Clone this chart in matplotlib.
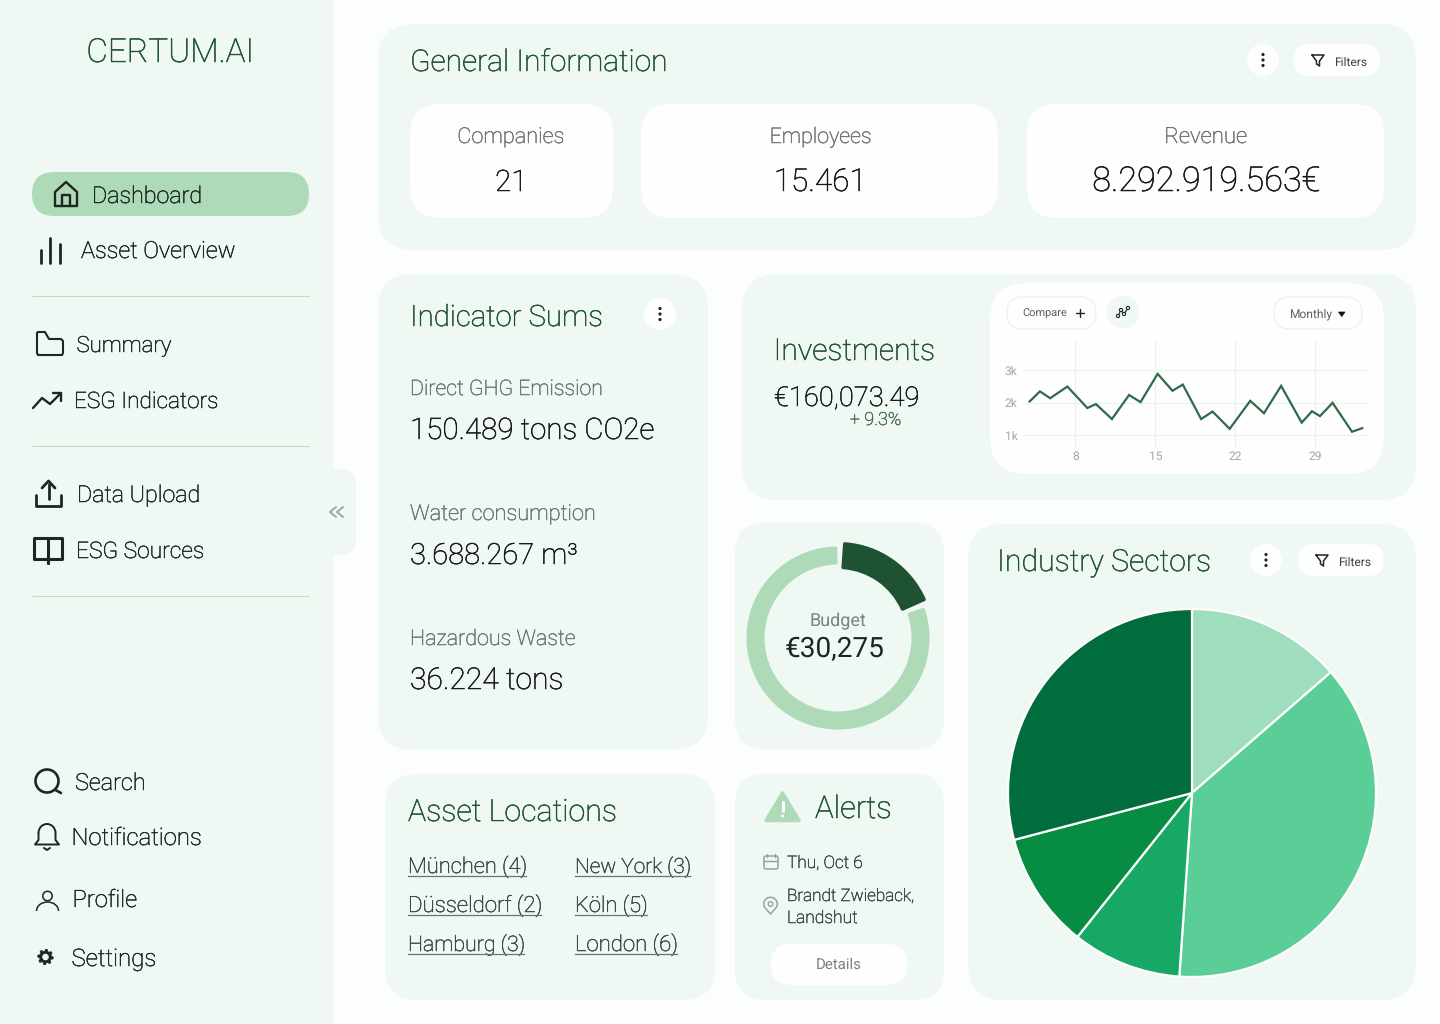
import matplotlib
matplotlib.use('Agg')
import matplotlib.pyplot as plt
import matplotlib.patheffects as pe
from matplotlib.patches import FancyBboxPatch, Circle, Polygon, Rectangle, Arc
import numpy as np

plt.rcParams['font.family'] = ['Roboto', 'DejaVu Sans']
plt.rcParams['text.hinting'] = 'no_hinting'
plt.rcParams['text.hinting_factor'] = 1

W, H = 1440, 1024

# chart data
day_x = [4.0, 4.9, 5.8, 7.3, 9.05, 9.8, 11.2, 12.7, 13.7, 15.2, 16.5, 17.4,
         19.0, 20.0, 21.5, 23.3, 24.5, 26.0, 27.8, 28.7, 29.4, 30.5, 32.2, 33.1]
invest_k = [2.04, 2.35, 2.14, 2.50, 1.84, 1.96, 1.50, 2.24, 2.02, 2.89, 2.37, 2.56,
            1.50, 1.73, 1.20, 2.06, 1.68, 2.52, 1.39, 1.74, 1.59, 2.00, 1.11, 1.22]
day_ticks = [8, 15, 22, 29]
k_ticks = [1, 2, 3]
k_labels = ['1k', '2k', '3k']

sector_values = [13.6, 37.5, 9.6, 10.2, 29.1]
sector_colors = ['#9EDDBE', '#5BCE98', '#18A865', '#078D43', '#016D3E']

budget_used = [62, 298]
budget_rest = [287, 73]

stat_names = ['Companies', 'Employees', 'Revenue']
stat_name_w = [106, 101, 82]
stat_values = ['21', '15.461', '8.292.919.563€']
stat_value_w = [32, 92, 226]

indicator_names = ['Direct GHG Emission', 'Water consumption', 'Hazardous Waste']
indicator_name_w = [191, 184, 164]
indicator_values = ['150.489 tons CO2e', '3.688.267 m³', '36.224 tons']
indicator_value_w = [242, 166, 152]

locations_left = ['München (4)', 'Düsseldorf (2)', 'Hamburg (3)']
locations_left_w = [118, 133, 116]
locations_right = ['New York (3)', 'Köln (5)', 'London (6)']
locations_right_w = [115, 72, 102]

PANEL = '#EFF8F2'
PILL = '#AEDAB8'
TITLE = '#1F5233'
DARK = '#1E2522'
GREY = '#6E7471'
LINE = '#2F6B4B'

fig = plt.figure(figsize=(W / 100, H / 100), dpi=100, facecolor='#FCFEFD')
bg = fig.add_axes([0, 0, 1, 1])
bg.set_xlim(0, W)
bg.set_ylim(H, 0)
bg.axis('off')
fig.canvas.draw()
rend = fig.canvas.get_renderer()


def box(x0, y0, x1, y1, r, color=PANEL, ec='none', lw=0, z=1):
    p = FancyBboxPatch((x0 + r, y0 + r), x1 - x0 - 2 * r, y1 - y0 - 2 * r,
                       boxstyle='round,pad=%d,rounding_size=%d' % (r, r),
                       fc=color, ec=ec, lw=lw, zorder=z)
    bg.add_patch(p)


# width = how wide the text is in the reference, the font size follows from it
def txt(x, y, s, width, color=DARK, ha='left', weight='light', fat=0.35):
    t = bg.text(x, y, s, fontsize=16, color=color, ha=ha, va='baseline',
                weight=weight, zorder=5)
    t.set_fontsize(16 * width / t.get_window_extent(rend).width)
    if weight == 'light':
        t.set_path_effects([pe.withStroke(linewidth=fat, foreground=color)])
    return t


def stroke(xs, ys, color=DARK, lw=2.0):
    bg.plot(xs, ys, color=color, lw=lw, solid_capstyle='round', solid_joinstyle='round', zorder=5)


def kebab(cx, cy):
    bg.add_patch(Circle((cx, cy), 16, fc='#FDFEFD', ec='none', zorder=3))
    for d in [-5.5, 0, 5.5]:
        bg.add_patch(Circle((cx, cy + d), 1.6, fc=DARK, ec='none', zorder=5))


def filters(x0, x1, cy):
    box(x0, cy - 16, x1, cy + 16, 16, '#FDFEFD', z=3)
    fx = x0 + 24
    stroke([fx - 6, fx + 6, fx + 1.5, fx + 1.5, fx - 1.5, fx - 1.5, fx - 6],
           [cy - 5, cy - 5, cy + 1, cy + 6, cy + 4, cy + 1, cy - 5], DARK, 1.1)
    txt(x0 + 40, cy + 6, 'Filters', 34, '#3C4240', weight='normal')


def gear(cx, cy, r):
    ang = np.linspace(0, 2 * np.pi, 48, endpoint=False)
    rad = np.where(np.arange(48) % 6 < 3, r, r * 0.76)
    bg.add_patch(Polygon(np.c_[cx + rad * np.cos(ang), cy + rad * np.sin(ang)], fc=DARK, ec=DARK, lw=0.4, zorder=5))
    bg.add_patch(Circle((cx, cy), r * 0.42, fc=PANEL, ec='none', zorder=6))


# sidebar
bg.add_patch(Rectangle((0, 0), 333, H, fc=PANEL, ec='none', zorder=0))
box(320, 469, 356, 555, 16, PANEL)
stroke([336, 330, 336], [507, 512, 517], '#A0A5A2', 1.4)
stroke([343, 337, 343], [507, 512, 517], '#A0A5A2', 1.4)
txt(170, 62, 'CERTUM.AI', 166, TITLE, ha='center')
box(32, 172, 309, 216, 22, PILL)
for yy in [296, 446, 596]:
    bg.plot([32, 309], [yy, yy], color='#BCDFC6', lw=0.8, solid_capstyle='butt', zorder=5)

txt(92, 203, 'Dashboard', 109)
txt(81, 258, 'Asset Overview', 153)
txt(76.5, 352, 'Summary', 94)
txt(74, 408, 'ESG Indicators', 143)
txt(77, 502, 'Data Upload', 122)
txt(76, 558, 'ESG Sources', 127)
txt(75, 790, 'Search', 70)
txt(71.5, 845, 'Notifications', 129)
txt(72.5, 907, 'Profile', 64)
txt(71.5, 966, 'Settings', 84)

# sidebar icons
stroke([55, 55, 66, 77, 77, 55], [206, 192, 182, 192, 206, 206], DARK, 1.7)
stroke([62, 62, 70, 70], [206, 195, 195, 206], DARK, 1.7)
for xx, top in [(41, 250), (50, 238), (60, 244)]:
    stroke([xx, xx], [top, 263], DARK, 2.0)
stroke([37, 37, 38, 62, 63, 63, 61, 49, 45, 38, 37],
       [333, 353, 355, 355, 353, 341, 339, 339, 332, 332, 333], DARK, 1.5)
stroke([33, 42, 50, 61], [408, 398, 404, 393], DARK, 1.7)
stroke([53, 61, 61], [393, 393, 401], DARK, 1.7)
stroke([36, 36, 61, 61], [495, 506, 506, 495], DARK, 2.0)
stroke([48.5, 48.5], [484, 499], DARK, 2.0)
stroke([42, 48.5, 55], [488, 481, 488], DARK, 2.0)
stroke([48, 48, 34, 34, 48, 62, 62, 48], [563, 538, 538, 559, 559, 559, 538, 538], DARK, 2.2)
stroke([48, 48], [559, 563], DARK, 2.2)
bg.add_patch(Circle((47, 781), 11.5, fc='none', ec=DARK, lw=1.9, zorder=5))
stroke([55.5, 61], [790, 793], DARK, 1.9)
bg.add_patch(Arc((47, 833), 17, 18, theta1=180, theta2=360, ec=DARK, lw=1.4, zorder=5))
stroke([38.5, 38.5, 35, 59, 55.5, 55.5], [833, 840, 844.5, 844.5, 840, 833], DARK, 1.4)
stroke([44, 47, 50], [848, 850, 848], DARK, 1.4)
bg.add_patch(Circle((47.5, 896), 4.7, fc='none', ec=DARK, lw=1.1, zorder=5))
bg.add_patch(Arc((47.5, 911), 22, 18, theta1=180, theta2=360, ec=DARK, lw=1.1, zorder=5))
gear(45.5, 957, 7.8)

# panels
box(378, 24, 1416, 250, 36)
box(378, 274, 708, 750, 36)
box(742, 274, 1416, 500, 36)
box(735, 523, 944, 749, 30)
box(968, 524, 1416, 1000, 36)
box(385, 774, 715, 1000, 32)
box(735, 774, 944, 1000, 30)

# general information
txt(410, 71, 'General Information', 255, TITLE)
kebab(1263, 60)
filters(1294, 1380, 60)
stat_boxes = [(410, 613), (641, 998), (1027, 1384)]
for i, (x0, x1) in enumerate(stat_boxes):
    box(x0, 104, x1, 218, 30, '#FDFEFD', z=2)
    cx = (x0 + x1) / 2
    txt(cx, 143, stat_names[i], stat_name_w[i], GREY, ha='center')
    txt(cx, 191, stat_values[i], stat_value_w[i], '#141816', ha='center')

# indicator sums
txt(410, 326, 'Indicator Sums', 191, TITLE)
kebab(660, 314)
for i, yy in enumerate([395, 520, 645]):
    txt(410, yy, indicator_names[i], indicator_name_w[i], GREY)
    txt(410, yy + 44, indicator_values[i], indicator_value_w[i], '#141816')

# investments
txt(773.5, 360, 'Investments', 160, TITLE)
txt(774, 406, '€160,073.49', 144, '#141816')
txt(875.5, 425, '+ 9.3%', 51, '#4A6B58', ha='center')
box(990, 283, 1384, 474, 36, '#FDFEFD', z=2)
box(1007, 297, 1096, 329, 16, '#FDFEFD', '#EEF3F0', 1.0, z=3)
txt(1022, 317, 'Compare', 46, '#5A605D', weight='normal')
stroke([1076, 1084], [313, 313], DARK, 1.0)
stroke([1080, 1080], [309, 317], DARK, 1.0)
bg.add_patch(Circle((1123, 312), 16.5, fc=PANEL, ec='none', zorder=3))
stroke([1118, 1121, 1124, 1128], [316, 310, 314, 308], DARK, 0.8)
for px_, py_ in [(1118, 316), (1121, 310), (1124, 314), (1128, 308)]:
    bg.add_patch(Circle((px_, py_), 1.6, fc=PANEL, ec=DARK, lw=0.8, zorder=5))
box(1274, 297, 1362, 329, 16, '#FDFEFD', '#EEF3F0', 1.0, z=3)
txt(1289, 317, 'Monthly', 41, '#5A605D', weight='normal')
bg.add_patch(Polygon([[1338.5, 312], [1345, 312], [1341.7, 316.5]], fc='#111111', ec='#111111', lw=0.5, zorder=5))

# line chart
lx0, lx1, ly0, ly1 = 1023, 1368, 341, 448
lax = fig.add_axes([lx0 / W, 1 - ly1 / H, (lx1 - lx0) / W, (ly1 - ly0) / H], zorder=5)
lax.patch.set_alpha(0)
lax.plot(day_x, invest_k, color=LINE, lw=1.6, solid_joinstyle='miter')
lax.set_xlim(3.42, 33.6)
lax.set_ylim(0.61, 3.9)
lax.set_xticks(day_ticks)
lax.set_xticklabels([str(d) for d in day_ticks])
lax.set_yticks(k_ticks)
lax.set_yticklabels(k_labels)
lax.tick_params(length=0, labelsize=8.3, labelcolor='#A3A8A5')
lax.tick_params(axis='x', pad=2)
lax.tick_params(axis='y', pad=4)
lax.grid(True, color='#EDF2EF', lw=0.9)
lax.set_axisbelow(True)
for s in lax.spines.values():
    s.set_visible(False)

# budget donut
cx, cy = 838, 638
R = 97
dax = fig.add_axes([(cx - R) / W, 1 - (cy + R) / H, 2 * R / W, 2 * R / H], zorder=4)
dax.axis('off')
rest_w, _ = dax.pie(budget_rest, startangle=18.5, counterclock=False, colors=[PILL, 'none'], radius=90 / 97,
                    wedgeprops=dict(width=15 / 97, edgecolor='none'))
rest_w[0].set(edgecolor=PILL, linewidth=2.2, joinstyle='round')
used_w, _ = dax.pie(budget_used, startangle=86, counterclock=False, colors=[TITLE, 'none'], radius=94.5 / 97,
                    wedgeprops=dict(width=24 / 97, edgecolor='none'))
used_w[0].set(edgecolor=TITLE, linewidth=2.2, joinstyle='round')
dax.set_xlim(-1, 1)
dax.set_ylim(-1, 1)
txt(837.5, 626, 'Budget', 55, '#7C8280', ha='center', weight='normal')
txt(835, 657, '€30,275', 100, DARK, ha='center', weight='normal')

# industry sectors
txt(997, 571, 'Industry Sectors', 212, TITLE)
kebab(1266, 560)
filters(1298, 1384, 560)
pcx, pcy, pr = 1192, 793, 184
pax = fig.add_axes([(pcx - pr) / W, 1 - (pcy + pr) / H, 2 * pr / W, 2 * pr / H], zorder=4)
pax.pie(sector_values, startangle=90, counterclock=False, colors=sector_colors, radius=1,
        wedgeprops=dict(edgecolor='#FDFEFD', linewidth=1.6))
pax.set_xlim(-1, 1)
pax.set_ylim(-1, 1)

# asset locations
txt(408, 821, 'Asset Locations', 207, TITLE)
for xx, names, widths in [(408, locations_left, locations_left_w), (575, locations_right, locations_right_w)]:
    for yy, name, w in zip([873, 912, 951], names, widths):
        txt(xx, yy, name, w, '#3F4542')
        bg.plot([xx, xx + w], [yy + 2.5, yy + 2.5], color='#6D7370', lw=0.9, zorder=5)

# alerts
bg.add_patch(Polygon([[782.5, 793], [799, 820.5], [766, 820.5]], fc=PILL, ec=PILL, lw=2.5, joinstyle='round', zorder=4))
stroke([782.5, 782.5], [802, 811], '#FDFEFD', 2.2)
bg.add_patch(Circle((782.5, 816), 1.5, fc='#FDFEFD', ec='none', zorder=5))
txt(815, 818, 'Alerts', 76, TITLE)
bg.add_patch(FancyBboxPatch((765, 857), 12, 11, boxstyle='round,pad=1,rounding_size=2', fc='none', ec='#9AA09D', lw=1.1, zorder=5))
stroke([764, 778], [860.5, 860.5], '#9AA09D', 1.0)
stroke([767, 767], [854, 857], '#9AA09D', 1.0)
stroke([775, 775], [854, 857], '#9AA09D', 1.0)
txt(787, 868, 'Thu, Oct 6', 75, '#3F4542')
bg.add_patch(Circle((770.5, 904), 2.3, fc='none', ec='#9AA09D', lw=1.0, zorder=5))
bg.add_patch(Arc((770.5, 904), 13.5, 13.5, theta1=150, theta2=390, ec='#9AA09D', lw=1.1, zorder=5))
stroke([764.8, 770.5, 776.2], [907.5, 914, 907.5], '#9AA09D', 1.1)
txt(787, 901, 'Brandt Zwieback,', 126, '#3F4542')
txt(787, 923, 'Landshut', 70, '#3F4542')
box(771, 944, 907, 985, 20, '#FDFEFD', z=3)
txt(839, 969, 'Details', 44, '#7C8280', ha='center', weight='normal')

fig.savefig('out.png', dpi=100, facecolor=fig.get_facecolor())
